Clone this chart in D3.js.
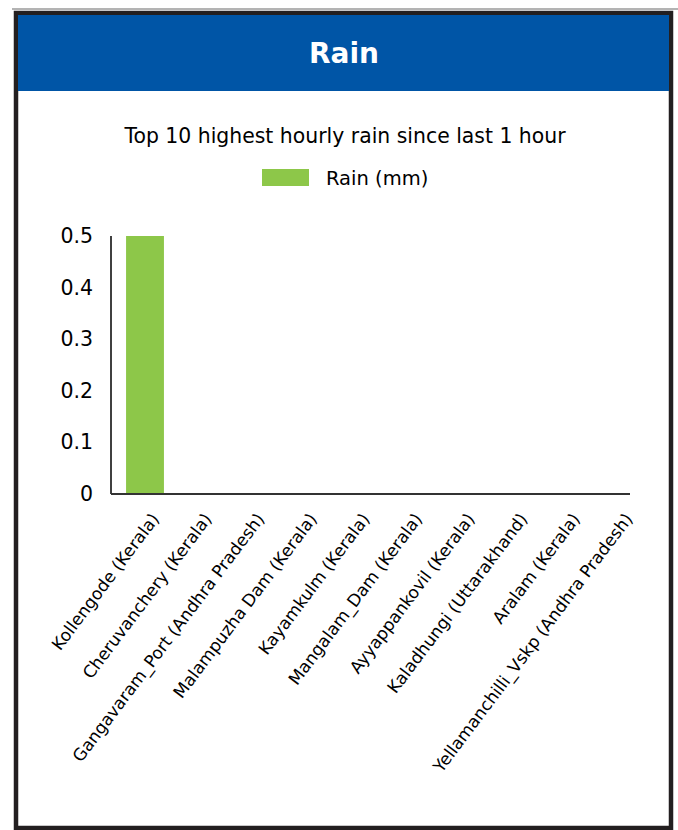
<!DOCTYPE html>
<html>
<head>
    <meta charset='utf-8' />
    <title>Rain</title>
    <script src="https://d3js.org/d3.v7.min.js"></script>
    <style>
        body {
            margin: 0;
            font-family: "DejaVu Sans", sans-serif;
            background: #fff;
        }
        .axis text {
            font-family: "DejaVu Sans", sans-serif;
            fill: #000;
        }
    </style>
</head>
<body>
    <div id="graphic"></div>
    <script>
        // data
        var stations = ["Kollengode (Kerala)", "Cheruvanchery (Kerala)", "Gangavaram_Port (Andhra Pradesh)",
            "Malampuzha Dam (Kerala)", "Kayamkulm (Kerala)", "Mangalam_Dam (Kerala)",
            "Ayyappankovil (Kerala)", "Kaladhungi (Uttarakhand)", "Aralam (Kerala)",
            "Yellamanchilli_Vskp (Andhra Pradesh)"];
        var rainMm = [0.5, 0, 0, 0, 0, 0, 0, 0, 0, 0];
        var yTicks = [0, 0.1, 0.2, 0.3, 0.4, 0.5];

        var width = 678, height = 830;

        var svg = d3.select("#graphic").append("svg")
            .attr("width", width)
            .attr("height", height);

        // panel frame + header
        svg.append("line")
            .attr("x1", 12).attr("x2", 678).attr("y1", 9).attr("y2", 9)
            .attr("stroke", "#9a9a9a").attr("stroke-width", 1.5);
        svg.append("rect")
            .attr("x", 16).attr("y", 13)
            .attr("width", 655).attr("height", 815)
            .attr("fill", "#fff")
            .attr("stroke", "#231f20").attr("stroke-width", 4.5);
        svg.append("rect")
            .attr("x", 18).attr("y", 15)
            .attr("width", 651).attr("height", 76)
            .attr("fill", "#0055a6");
        svg.append("text")
            .attr("x", 344).attr("y", 63)
            .attr("text-anchor", "middle")
            .attr("fill", "#fff")
            .style("font-size", "28px")
            .style("font-weight", "bold")
            .text("Rain");

        // subtitle + legend
        svg.append("text")
            .attr("x", 345).attr("y", 143)
            .attr("text-anchor", "middle")
            .style("font-size", "20.4px")
            .text("Top 10 highest hourly rain since last 1 hour");
        svg.append("rect")
            .attr("x", 262).attr("y", 169)
            .attr("width", 47).attr("height", 17)
            .attr("fill", "#8dc749");
        svg.append("text")
            .attr("x", 326).attr("y", 185)
            .style("font-size", "19.5px")
            .text("Rain (mm)");

        // scales
        var x = d3.scaleBand()
            .domain(stations)
            .range([118.7, 644.7])
            .paddingInner(0.28)
            .paddingOuter(0.14);

        var y = d3.scaleLinear()
            .domain([0, 0.5])
            .range([494, 236]);

        var axisLeft = 111, axisRight = 630;

        // y axis labels, no ticks
        var yAxis = d3.axisLeft(y)
            .tickValues(yTicks)
            .tickSize(0)
            .tickPadding(18)
            .tickFormat(function (d) { return d === 0 ? "0" : d3.format(".1f")(d); });

        var gy = svg.append("g")
            .attr("class", "axis")
            .attr("transform", "translate(" + axisLeft + ",0)")
            .call(yAxis);
        gy.select(".domain").remove();
        gy.selectAll("text").style("font-size", "20.5px");

        // bars
        svg.selectAll(".bar")
            .data(stations)
            .enter()
            .append("rect")
            .attr("class", "bar")
            .attr("x", function (d) { return x(d); })
            .attr("y", function (d, i) { return y(rainMm[i]); })
            .attr("width", x.bandwidth())
            .attr("height", function (d, i) { return y(0) - y(rainMm[i]); })
            .attr("fill", "#8dc749");

        // axis lines
        svg.append("line")
            .attr("x1", axisLeft).attr("x2", axisLeft)
            .attr("y1", y(0.5)).attr("y2", y(0))
            .attr("stroke", "#000").attr("stroke-width", 1.5);
        svg.append("line")
            .attr("x1", axisLeft).attr("x2", axisRight)
            .attr("y1", y(0)).attr("y2", y(0))
            .attr("stroke", "#333").attr("stroke-width", 2);

        // rotated category labels
        svg.selectAll(".xlabel")
            .data(stations)
            .enter()
            .append("text")
            .attr("class", "xlabel")
            .attr("text-anchor", "end")
            .attr("transform", function (d) {
                return "translate(" + (x(d) + x.bandwidth() / 2 + 15) + "," + 519 + ") rotate(-53)";
            })
            .style("font-size", "17px")
            .text(function (d) { return d; });
    </script>
</body>
</html>
